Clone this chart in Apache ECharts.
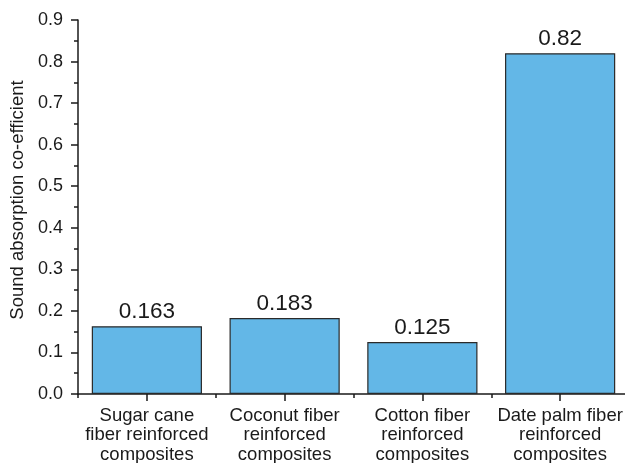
<!DOCTYPE html>
<html>
<head>
<meta charset="utf-8">
<script src="https://cdn.jsdelivr.net/npm/echarts@6/dist/echarts.min.js"></script>
<style>
  html, body { margin: 0; padding: 0; background: #fff; }
  #chart { width: 625px; height: 463px; }
</style>
</head>
<body>
<div id="chart"></div>
<script>
// categories and values
const categories = [
  'Sugar cane\nfiber reinforced\ncomposites',
  'Coconut fiber\nreinforced\ncomposites',
  'Cotton fiber\nreinforced\ncomposites',
  'Date palm fiber\nreinforced\ncomposites'
]
const absorption = [0.163, 0.183, 0.125, 0.82]
const yTicks = [0, 0.1, 0.2, 0.3, 0.4, 0.5, 0.6, 0.7, 0.8, 0.9]

const font = 'Liberation Sans, Arial, sans-serif'
const ink = '#1a1a1a'

const chart = echarts.init(document.getElementById('chart'), null, { renderer: 'canvas' })

chart.setOption({
  animation: false,
  grid: {
    left: 78,
    top: 20,
    width: 551,
    height: 374,
    outerBoundsMode: 'none'
  },
  xAxis: [
    {
      type: 'category',
      data: categories,
      axisLine: { lineStyle: { color: ink, width: 1.5 } },
      axisTick: { show: true, alignWithLabel: true, length: 7, lineStyle: { color: ink, width: 1.5 } },
      axisLabel: {
        color: ink,
        fontFamily: font,
        fontSize: 18.5,
        lineHeight: 19.5,
        margin: 12,
        interval: 0
      }
    },
    {
      // short ticks on the category boundaries
      type: 'category',
      data: categories,
      position: 'bottom',
      axisLine: { show: false },
      axisTick: { show: true, length: 4, lineStyle: { color: ink, width: 1.5 } },
      axisLabel: { show: false }
    }
  ],
  yAxis: {
    type: 'value',
    min: yTicks[0],
    max: yTicks[yTicks.length - 1],
    interval: 0.1,
    name: 'Sound absorption co-efficient',
    nameLocation: 'middle',
    nameGap: 48,
    nameTextStyle: { color: ink, fontFamily: font, fontSize: 18.5, padding: [0, 0, 0, 14] },
    axisLine: { show: true, lineStyle: { color: ink, width: 1.5 } },
    axisTick: { show: true, length: 7, lineStyle: { color: ink, width: 1.5 } },
    minorTick: { show: true, splitNumber: 2, length: 4, lineStyle: { color: ink, width: 1.5 } },
    splitLine: { show: false },
    axisLabel: {
      color: ink,
      fontFamily: font,
      fontSize: 18,
      margin: 15,
      formatter: v => v.toFixed(1)
    }
  },
  series: [{
    type: 'bar',
    data: absorption,
    barWidth: '80%',
    itemStyle: { color: '#63b7e7', borderColor: '#2a2a2a', borderWidth: 1.2 },
    label: {
      show: true,
      position: 'top',
      distance: 3,
      color: ink,
      fontFamily: font,
      fontSize: 22.5
    }
  }]
})
</script>
</body>
</html>
